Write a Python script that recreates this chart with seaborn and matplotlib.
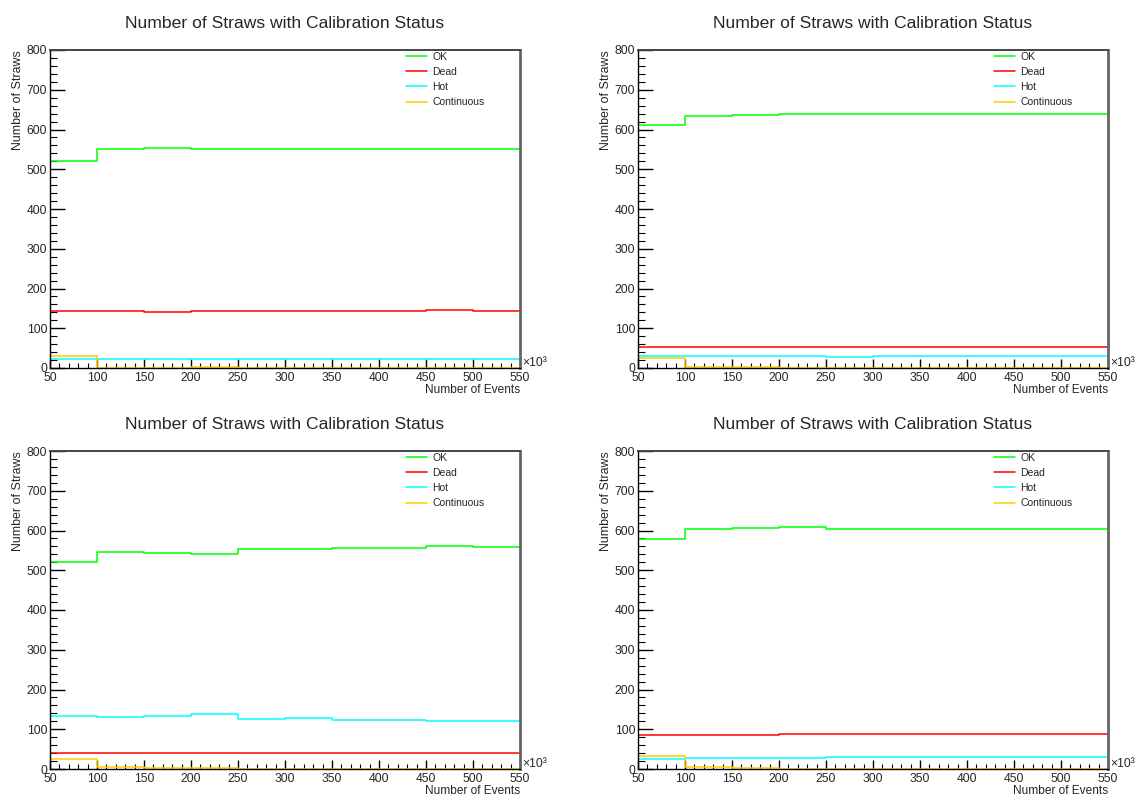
import numpy as np
import pandas as pd
import matplotlib
matplotlib.use("Agg")
import matplotlib.pyplot as plt
from matplotlib.ticker import MultipleLocator
from matplotlib.lines import Line2D
import seaborn as sns

# Bin edges in thousands of events
edges = list(range(50, 551, 50))
statuses = ["OK", "Dead", "Hot", "Continuous"]
status_colors = {"OK": "#00ff00", "Dead": "#ff0000", "Hot": "#00ffff", "Continuous": "#ffcc00"}
title = "Number of Straws with Calibration Status"

# Straw counts per bin, one set per detector panel
ok_1 = [522, 550, 553, 550, 552, 552, 552, 552, 551, 552]
dead_1 = [143, 143, 142, 143, 143, 143, 143, 143, 145, 143]
hot_1 = [23, 23, 23, 23, 23, 23, 23, 23, 23, 23]
cont_1 = [29, 1, 1, 2, 0, 0, 0, 0, 0, 0]

ok_2 = [612, 635, 637, 638, 640, 638, 638, 638, 638, 638]
dead_2 = [52, 52, 52, 52, 52, 52, 52, 52, 52, 52]
hot_2 = [29, 29, 29, 29, 28, 29, 29, 29, 29, 29]
cont_2 = [26, 3, 3, 0, 0, 0, 0, 0, 0, 0]

ok_3 = [522, 546, 544, 541, 553, 553, 557, 556, 560, 558]
dead_3 = [41, 40, 41, 40, 40, 40, 40, 40, 40, 40]
hot_3 = [134, 130, 133, 138, 126, 128, 123, 123, 121, 122]
cont_3 = [24, 5, 3, 2, 1, 1, 1, 1, 1, 1]

ok_4 = [578, 605, 607, 608, 605, 605, 605, 605, 605, 605]
dead_4 = [85, 85, 85, 87, 87, 87, 87, 87, 87, 87]
hot_4 = [25, 27, 27, 27, 30, 30, 30, 30, 30, 30]
cont_4 = [32, 4, 2, 0, 0, 0, 0, 0, 0, 0]

panels = [
    (ok_1, dead_1, hot_1, cont_1),
    (ok_2, dead_2, hot_2, cont_2),
    (ok_3, dead_3, hot_3, cont_3),
    (ok_4, dead_4, hot_4, cont_4),
]

sns.set_theme(style="ticks")
plt.rcParams["font.family"] = ["Liberation Sans", "DejaVu Sans"]

W, H = 1136, 796
fig = plt.figure(figsize=(W / 100, H / 100), dpi=100)

# axes rectangles in pixels: left, top, right, bottom
rects = [(50, 50, 520, 368), (638, 50, 1108, 368),
         (50, 451, 520, 769), (638, 451, 1108, 769)]

centers = [(a + b) / 2 for a, b in zip(edges[:-1], edges[1:])]

for (l, t, r, b), series in zip(rects, panels):
    ax = fig.add_axes([l / W, 1 - b / H, (r - l) / W, (b - t) / H])
    df = pd.DataFrame({
        "events": centers * len(statuses),
        "straws": [float(v) for s in series for v in s],
        "status": [name for name in statuses for _ in centers],
    })
    sns.histplot(data=df, x="events", weights="straws", hue="status",
                 hue_order=statuses[::-1], palette=status_colors, bins=edges,
                 element="step", fill=False, linewidth=1.1, legend=False, ax=ax)

    ax.set_xlim(50, 550)
    ax.set_ylim(0, 800)
    ax.xaxis.set_major_locator(MultipleLocator(50))
    ax.xaxis.set_minor_locator(MultipleLocator(10))
    ax.yaxis.set_major_locator(MultipleLocator(100))
    ax.yaxis.set_minor_locator(MultipleLocator(20))
    ax.tick_params(axis="x", which="major", direction="in", length=6.8, width=1,
                   labelsize=8.7, pad=3, color="black")
    ax.tick_params(axis="x", which="minor", direction="in", length=3.4, width=0.8, color="black")
    ax.tick_params(axis="y", which="major", direction="in", length=10.5, width=1,
                   labelsize=8.7, pad=2, color="black")
    ax.tick_params(axis="y", which="minor", direction="in", length=5.2, width=0.8, color="black")

    for side in ("left", "bottom"):
        ax.spines[side].set_color("black")
        ax.spines[side].set_linewidth(1.0)
    ax.spines["top"].set_color("#444444")
    ax.spines["top"].set_linewidth(1.4)
    ax.spines["right"].set_color("#666666")
    ax.spines["right"].set_linewidth(2.0)

    ax.set_title(title, fontsize=12.6, pad=16)
    ax.set_xlabel("Number of Events", fontsize=8.6, loc="right", labelpad=0)
    ax.set_ylabel("Number of Straws", fontsize=8.9, loc="top")
    ax.yaxis.set_label_coords(-0.056, 1.0)
    ax.text(1.004, 0.005, "×10³", transform=ax.transAxes, ha="left", va="baseline",
            fontsize=8.7)

    handles = [Line2D([], [], color=status_colors[s], lw=1.1) for s in statuses]
    ax.legend(handles, statuses, loc="upper left", bbox_to_anchor=(0.755, 1.0),
              frameon=False, fontsize=7.5, handlelength=2.0, handletextpad=0.5,
              labelspacing=0.5, borderpad=0.1, borderaxespad=0.05)

fig.savefig("out.png", dpi=100, facecolor="white")
